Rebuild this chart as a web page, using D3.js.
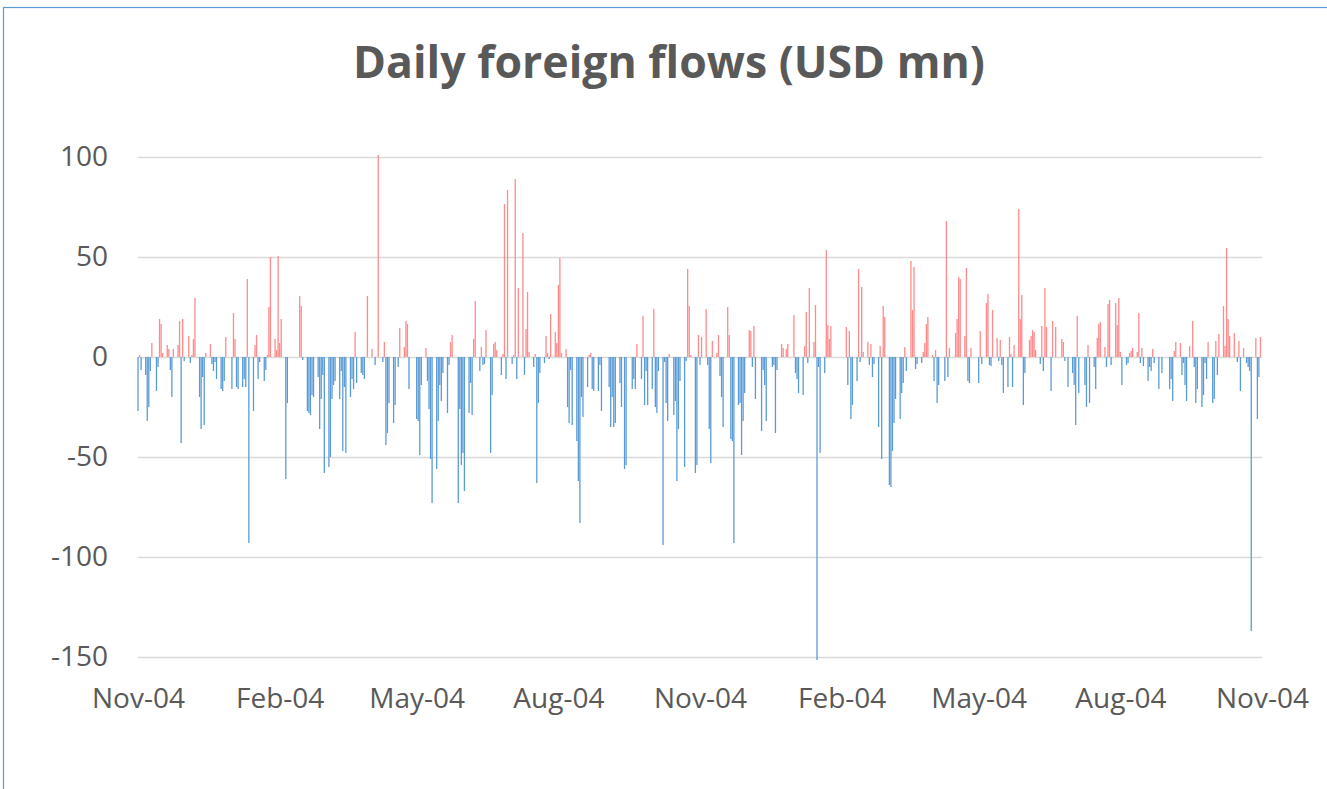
<!DOCTYPE html>
<html>
<head>
<meta charset="utf-8">
<script src="https://cdn.jsdelivr.net/npm/d3@7"></script>
<style>
  html, body { margin: 0; padding: 0; background: #ffffff; }
  svg { display: block; }
</style>
</head>
<body>
<svg id="chart" width="1327" height="789"></svg>
<script>
// ---- data ----
const chartTitle = "Daily foreign flows (USD mn)";
const startDate = "2013-11-04";
const endDate = "2015-11-04";
const tickDates = ["2013-11-04","2014-02-04","2014-05-04","2014-08-04","2014-11-04","2015-02-04","2015-05-04","2015-08-04","2015-11-04"];
const yTicks = [-150, -100, -50, 0, 50, 100];
const yDomain = [-150, 100];

// [days since start, flow in USD mn]
const flowsYear1 = [
 [0,-27],[1,1],[2,-6.5],[5,-9],[6,-32],[7,-25],[8,-7],[9,7],[12,-17],[13,-5],[14,19],[15,16.5],[16,2],[19,6],[20,4],[21,-6.5],[22,-20],[23,4],[26,6],[27,18],[28,-43],[29,19],[30,-2],[33,10.5],[34,-3],[35,1],[36,9],[37,29.5],[40,-20],[41,-36],[42,-10],[43,-34],[44,2],[47,6.5],[48,-3.5],[49,-7],[50,-2.5],[51,-11],[54,-16],[55,-17],[56,-12],[57,10],[61,-16],[62,22],[63,9],[64,-15],[65,-16],[68,-15],[69,-11],[70,-15],[71,39],[72,-93],
 [75,-27],[76,6],[77,11],[78,-11],[79,-2.5],[82,-12],[83,-6.5],[84,1],[85,25],[86,50],[89,9],[90,3.5],[91,50.5],[92,7],[93,19],[96,-61],[97,-23],[105,30.5],[106,25.5],[107,-1.5],[110,-27],[111,-28],[112,-29],[113,-19],[114,-20],[117,-10],[118,-36],[119,-21],[120,-9],[121,-58],[124,-55],[125,-50],[126,-21],[127,-14],[128,-12],[131,-21],[132,-7],[133,-47],[134,-15],[135,-48],[138,-20],[139,-11],[140,-16],[141,12.5],[142,-13],[145,-8],[146,-9],[147,-11],
 [149,30.5],[152,4],[154,-4],[156,101],[159,-2.5],[160,7.5],[161,-44],[162,-38],[163,-23],[166,-33],[167,-24],[169,-5],[170,14.5],[173,5],[174,18],[175,16.5],[176,-16],[181,-31],[182,-32],[183,-49],[184,-14],[187,4.5],[188,-12],[189,-26],[190,-51],[191,-73],[194,-56],[195,-32],[196,-14],[197,-22],[198,-8],[201,-28],[202,-4],[203,7.5],[204,11],[208,-73],[209,-26],[210,-54],[211,-48],[212,-67],[215,-28],[216,-13],[217,-29],[218,9],[219,28],
 [222,-7],[223,5],[224,-4],[225,-3.5],[226,13.5],[229,-48],[230,-19],[231,6.5],[232,7.5],[233,3.5],[236,-9],[237,1.5],[238,76.5],[239,-11],[240,83.5],[243,-3.5],[244,1],[245,89],[246,-11],[247,34.5],[250,62],[251,-9],[252,14],[253,32.5],[254,2.5],[257,-5],[258,1.5],[259,-63],[260,-23],[261,-8],[264,-3],[265,10.5],[266,2],[267,-1],[268,21.5],[271,12.5],[272,7],[273,36],[274,49.5],[275,2],[278,4],[279,-25],[280,-33],[281,-6.5],[282,-34],[285,-42],[286,-62],[287,-83],[288,-20],[289,-30],[292,-15],[293,1],[294,2],[295,-16],[296,-17],
 [299,-17],[300,-4],[301,-27],[306,-15],[307,-35],[308,-20],[309,-35],[310,-33],[313,-13],[314,-25],[316,-56],[317,-54],[321,-16],[322,-11],[323,-16],[324,6.5],[327,-11],[328,20.5],[329,-24],[330,-7],[331,-24],[334,-16],[335,24],[336,-25],[337,-28],[338,-7],[341,-94],[342,-2.5],[343,-23],[344,-32],[345,1.5],[348,-29],[349,-22],[350,-62],[351,-36],[352,-12],[355,-55],[356,-2],[357,44],[358,25.5],[359,1],[362,-58],[363,-54],[364,11]
];
const flowsYear2 = [
 [365,-4],[366,10],[369,24],[370,-4],[371,-36],[372,-53],[373,8],[376,2],[377,11],[378,-9.5],[379,-20],[380,-35],[383,25],[384,11],[385,-41],[386,-42],[387,-93],[390,-24],[391,-23],[392,-49],[393,-32],[394,-18],[397,13.5],[398,13],[399,-5],[400,15.5],[401,-21],[405,-37],[406,-6.5],[407,-14],[408,-32],[412,-5],[413,-4],[414,-38],[415,-6.5],[418,6.5],[419,4.5],[421,4],[422,6.5],[426,21],[427,-8],[428,-11],[429,-18],[432,-19],[433,5.5],[434,22.5],[435,-3],[436,34.5],[439,7.5],[440,26],[441,-151.5],[442,-5],[443,-48],[446,-8],
 [447,53.5],[448,16],[449,9],[450,15.5],[460,15],[461,-14],[462,13],[463,-31],[464,-24],[467,-12],[468,44],[469,-2.5],[470,35],[471,2.5],[474,7.5],[475,-4],[476,6.5],[477,-10],[478,-3.5],[481,-35],[482,5.5],[483,-51],[484,25.5],[485,20],[488,-64],[489,-65],[490,-47],[491,-33],[492,-21],[495,-31],[496,-18],[497,-13],[498,5],[499,-7],[502,48],[503,23.5],[504,45],[505,-6],[506,-3.5],[509,-3],[510,2.5],[511,7],[512,16.5],[513,20],[516,1],[517,-12],[518,3.5],[519,-23],[520,-14],
 [524,-12],[525,68],[526,-10],[527,4.5],[531,12],[532,19],[533,40],[534,39],[537,10.5],[538,44.5],[539,-12],[540,-13],[541,4.5],[546,-13],[547,13],[548,-3.5],[551,27],[552,31.5],[553,-4],[554,-4.5],[555,23.5],[558,9.5],[559,-2],[560,8.5],[561,-4],[562,-18],[565,-15],[566,10],[567,1.5],[568,-15],[569,6],[572,74],[573,19],[574,31],[575,-24],[576,-8],[579,8.5],[580,10.5],[581,13.5],[582,12.5],[583,3.5],[586,-3.5],[587,15.5],[588,-7],[589,34.5],[590,15],[593,-17],[594,18],
 [596,15],[600,9],[601,7.5],[602,-2],[604,-15],[607,-8],[608,-14],[609,-34],[610,20.5],[611,-18],[615,-14],[616,-25],[617,6],[618,-23],[621,-5],[622,-16],[623,9.5],[624,16.5],[625,17.5],[628,5],[629,-5],[630,26.5],[631,28.5],[632,-4],[635,27],[636,16],[637,29.5],[638,2.5],[639,-14],[642,-4],[643,-3],[644,2],[645,3],[646,4.5],[649,2.5],[650,22],[651,-3],[652,4.5],[653,-4.5],[656,-12],[657,-5],[658,-7],[659,4],[660,-3],[663,-16],[665,-8],
 [670,-16],[671,-11],[672,-22],[673,3],[674,7.5],[677,7],[678,-9],[679,-3],[680,-14],[681,-22],[683,5.5],[685,18],[686,-5],[687,-23],[688,-16],[691,-25],[692,-19],[693,-3],[694,-11],[695,7.5],[698,-23],[699,-21],[700,8],[701,-9],[702,11.5],[705,25.5],[706,5.5],[707,54.5],[708,19],[709,10.5],[712,12],[714,-2.5],[715,8],[716,-17],[718,4.5],[720,-3],[721,-5],[722,-7],[723,-137],[726,9.5],[727,-31],[728,-10],[729,10]
];

// ---- drawing ----
const svg = d3.select("#chart");
const W = 1327, H = 789;
const margin = { left: 138, right: 65, top: 157, bottom: 132 };
const labelFont = "'Open Sans', 'Noto Sans', sans-serif";

const parse = d3.utcParse("%Y-%m-%d");
const t0 = parse(startDate), t1 = parse(endDate);
const x = d3.scaleUtc().domain([t0, t1]).range([margin.left, W - margin.right]);
const y = d3.scaleLinear().domain(yDomain).range([H - margin.bottom, margin.top]);

const data = flowsYear1.concat(flowsYear2).map(([d, v]) => ({ date: d3.utcDay.offset(t0, d), value: v }));

// outer frame
svg.append("rect").attr("x", 3.5).attr("y", 7.5).attr("width", W + 20).attr("height", H + 20)
  .attr("fill", "none").attr("stroke", "#5b9bd5").attr("stroke-width", 1.2);

// title
const title = svg.append("text")
  .attr("x", 669).attr("y", 78)
  .attr("text-anchor", "middle")
  .attr("font-family", labelFont)
  .attr("font-weight", 700)
  .attr("font-size", 44)
  .attr("fill", "#595959")
  .text(chartTitle);
{
  const target = 632;
  const len = title.node().getComputedTextLength();
  title.attr("font-size", 44 * target / len);
}

// gridlines + y labels
const yAxis = d3.axisLeft(y).tickValues(yTicks).tickSize(-(W - margin.left - margin.right)).tickPadding(30).tickFormat(d => String(d));
const gy = svg.append("g").attr("transform", `translate(${margin.left},0)`).call(yAxis);
gy.select(".domain").remove();
gy.selectAll(".tick line").attr("stroke", "#d9d9d9").attr("stroke-width", 1.5);
gy.selectAll(".tick text")
  .attr("font-family", labelFont)
  .attr("font-size", 28)
  .attr("fill", "#595959");

// bars
const barW = 1.3;
svg.append("g").selectAll("rect").data(data).join("rect")
  .attr("x", d => x(d.date) - barW / 2)
  .attr("width", barW)
  .attr("y", d => y(Math.max(0, d.value)))
  .attr("height", d => Math.abs(y(d.value) - y(0)))
  .attr("fill", d => d.value >= 0 ? "#ff8a8c" : "#5b9bd5");

// x axis labels
const xAxis = d3.axisBottom(x).tickValues(tickDates.map(parse)).tickSize(0).tickPadding(0).tickFormat(d3.utcFormat("%b-%d"));
const gx = svg.append("g").attr("transform", `translate(0,${y(-150)})`).call(xAxis);
gx.select(".domain").remove();
gx.selectAll(".tick text")
  .attr("font-family", labelFont)
  .attr("font-size", 28)
  .attr("fill", "#595959")
  .attr("y", 51)
  .attr("dy", 0);
</script>
</body>
</html>
